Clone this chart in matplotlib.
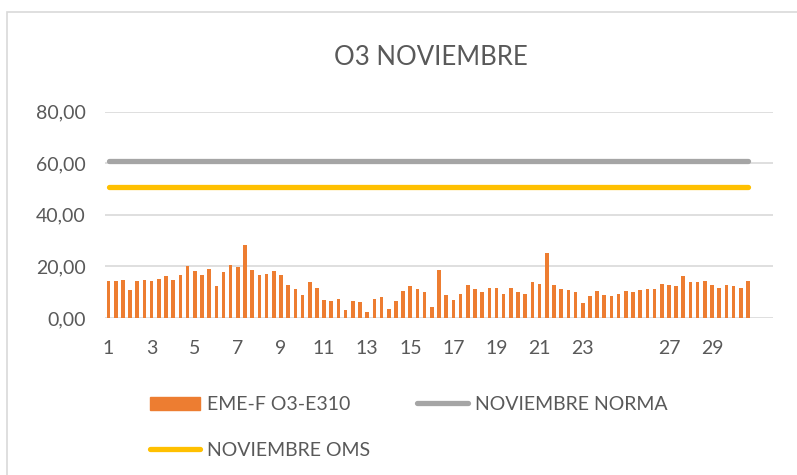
import numpy as np
import matplotlib
matplotlib.use("Agg")
import matplotlib.pyplot as plt
from matplotlib.patches import Rectangle
from matplotlib.lines import Line2D

# O3 values, 3 readings per day (Nov 1 - Nov 30)
o3_values = [
    14.3, 14.3, 14.7, 10.9, 14.3, 14.7, 14.3, 15.3, 16.2, 14.7,
    16.8, 20.1, 18.1, 16.8, 19.2, 12.4, 17.7, 20.6, 19.7, 28.5,
    18.7, 16.8, 17.2, 18.1, 16.8, 12.8, 11.4, 9.0, 13.8, 11.8,
    7.0, 6.5, 7.3, 3.2, 6.5, 6.1, 2.5, 7.3, 8.0, 3.5,
    6.5, 10.4, 12.3, 11.3, 9.9, 4.4, 18.6, 8.9, 7.0, 9.4,
    12.8, 11.3, 9.9, 11.8, 11.8, 9.4, 11.8, 9.9, 9.4, 13.8,
    13.3, 25.4, 12.8, 11.4, 10.9, 9.9, 5.9, 8.4, 10.4, 9.0,
    8.4, 9.4, 10.4, 9.9, 10.9, 11.4, 11.4, 13.3, 12.8, 12.3,
    16.2, 13.8, 13.8, 14.3, 12.8, 11.8, 12.8, 12.3, 11.8, 14.3,
]
norma_value = 61.0   # NOVIEMBRE NORMA
oms_value = 51.0     # NOVIEMBRE OMS
n_categories = 93    # axis has room for 31 days x 3
day_labels = ["1", "3", "5", "7", "9", "11", "13", "15", "17", "19", "21", "23", "27", "29"]
label_days = [1, 3, 5, 7, 9, 11, 13, 15, 17, 19, 21, 23, 27, 29]
y_ticks = [0, 20, 40, 60, 80]

plt.rcParams['font.family'] = ['Lato', 'DejaVu Sans']
text_col = '#595959'

fig = plt.figure(figsize=(7.97, 4.75), dpi=100)
ax = fig.add_axes([0.1317, 0.3305, 0.8383, 0.4343])

x = np.arange(len(o3_values))
bars = ax.bar(x, o3_values, width=0.5, color='#ED7D31', zorder=3)
l_norma, = ax.plot(x, np.full(len(x), norma_value), color='#A5A5A5', lw=3.8,
                   solid_capstyle='round', zorder=4)
l_oms, = ax.plot(x, np.full(len(x), oms_value), color='#FFC000', lw=3.8,
                 solid_capstyle='round', zorder=4)

ax.set_xlim(-0.5, n_categories - 0.5)
ax.set_ylim(0, 80)
ax.set_yticks(y_ticks)
ax.set_yticklabels(['{:.2f}'.format(v).replace('.', ',') for v in y_ticks])
ax.set_xticks([3 * (d - 1) for d in label_days])
ax.set_xticklabels(day_labels)
ax.tick_params(length=0, labelsize=14, colors=text_col)
ax.tick_params(axis='y', pad=14)
ax.tick_params(axis='x', pad=16)
for s in ax.spines.values():
    s.set_visible(False)
ax.grid(axis='y', color='#D9D9D9', lw=1.2, zorder=0)
ax.set_axisbelow(True)

fig.text(0.54, 0.878, 'O3 NOVIEMBRE', ha='center', va='center',
         fontsize=18.5, color=text_col)

# legend: row1 = bars + norma, row2 = oms
h_bar = Rectangle((0, 0), 1, 1, color='#ED7D31')
h_norma = Line2D([], [], color='#A5A5A5', lw=3.8, solid_capstyle='round')
h_oms = Line2D([], [], color='#FFC000', lw=3.8, solid_capstyle='round')
fig.legend([h_bar, h_oms, h_norma],
           ['EME-F O3-E310', 'NOVIEMBRE OMS', 'NOVIEMBRE NORMA'],
           ncol=2, loc='upper left', bbox_to_anchor=(0.188, 0.166),
           frameon=False, fontsize=14, labelcolor=text_col,
           handlelength=2.6, handleheight=0.65, handletextpad=0.36,
           columnspacing=2.4, labelspacing=1.48, borderpad=0, borderaxespad=0)

# chart border
fig.patches.append(Rectangle((0.0088, -0.1), 1.2, 1.0747, transform=fig.transFigure,
                             fill=False, edgecolor='#D9D9D9', lw=1.2))

fig.savefig('out.png', dpi=100)
